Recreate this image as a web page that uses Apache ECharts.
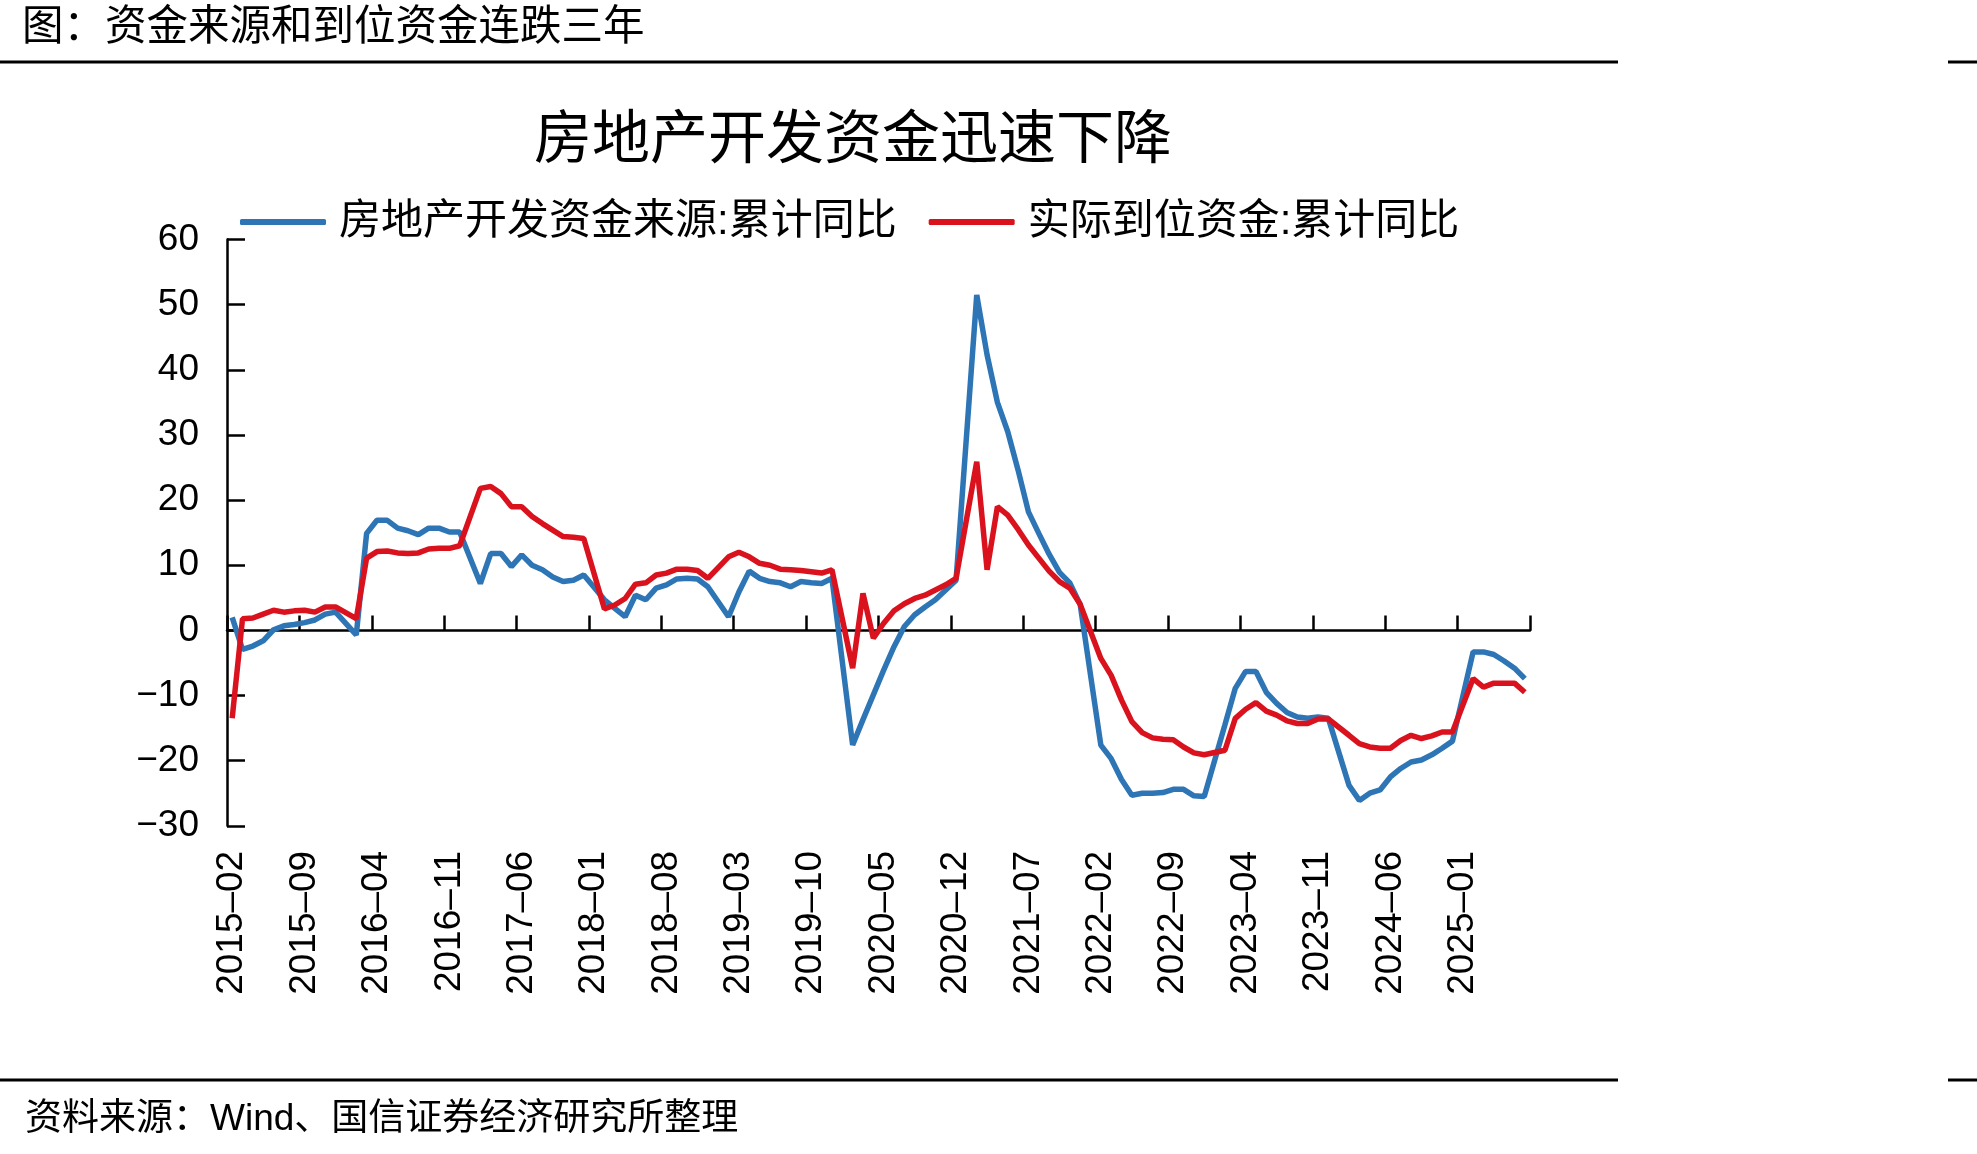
<!DOCTYPE html>
<html>
<head>
<meta charset="utf-8">
<title>房地产开发资金迅速下降</title>
<script src="https://cdn.jsdelivr.net/npm/echarts@6/dist/echarts.min.js"></script>
<style>
  html, body { margin: 0; padding: 0; background: #fff; }
  #main { width: 1977px; height: 1154px; }
</style>
</head>
<body>
<div id="main"></div>
<script>
// 月份：2015-02 至 2025-07，1月无单独数据（留空，连线跨过）
var months = [];
for (var y = 2015; y <= 2025; y++) {
  for (var m = 1; m <= 12; m++) {
    if (y === 2015 && m < 2) continue;
    if (y === 2025 && m > 7) break;
    months.push(y + '-' + (m < 10 ? '0' + m : m));
  }
}

// 房地产开发资金来源:累计同比（%）
var fundSource = [
  2.0, -2.9, -2.4, -1.6, 0.1, 0.7, 0.9, 1.2, 1.6, 2.5, 2.8,
  null, -0.7, 14.9, 16.9, 16.9, 15.7, 15.3, 14.7, 15.7, 15.7, 15.1, 15.1,
  null, 7.2, 11.8, 11.8, 9.8, 11.6, 10.0, 9.3, 8.2, 7.5, 7.7, 8.5,
  null, 4.7, 3.4, 2.1, 5.4, 4.7, 6.5, 7.0, 7.9, 8.0, 7.9, 6.7,
  null, 2.1, 5.9, 9.1, 8.0, 7.5, 7.3, 6.7, 7.5, 7.3, 7.2, 8.0,
  null, -17.6, -13.7, -9.9, -6.1, -2.5, 0.6, 2.4, 3.6, 4.7, 6.2, 7.7,
  null, 51.5, 42.3, 35.0, 30.5, 24.6, 18.2, 14.9, 11.7, 8.9, 7.3, 4.0,
  null, -17.6, -19.7, -22.9, -25.3, -25.0, -25.0, -24.9, -24.4, -24.4, -25.4, -25.5,
  null, -14.5, -8.9, -6.3, -6.3, -9.5, -11.2, -12.6, -13.3, -13.5, -13.3, -13.5,
  null, -23.8, -26.1, -25.0, -24.5, -22.5, -21.2, -20.2, -19.9, -19.1, -18.1, -17.0,
  null, -3.3, -3.3, -3.7, -4.7, -5.8, -7.4
];

// 实际到位资金:累计同比（%）
var fundActual = [
  -13.5, 1.8, 1.9, 2.5, 3.1, 2.8, 3.0, 3.1, 2.8, 3.6, 3.6,
  null, 1.8, 11.1, 12.1, 12.2, 11.9, 11.8, 11.9, 12.5, 12.6, 12.6, 13.0,
  null, 21.8, 22.1, 21.0, 19.0, 19.0, 17.5, 16.4, 15.4, 14.4, 14.3, 14.1,
  null, 3.3, 3.9, 4.9, 7.1, 7.3, 8.5, 8.8, 9.4, 9.4, 9.2, 8.0,
  null, 11.3, 12.0, 11.3, 10.3, 10.0, 9.4, 9.3, 9.2, 9.0, 8.8, 9.3,
  null, -5.8, 5.7, -1.2, 1.1, 3.0, 4.1, 4.9, 5.4, 6.2, 7.0, 8.0,
  null, 25.9, 9.3, 19.0, 17.7, 15.5, 13.1, 11.1, 9.1, 7.5, 6.5, 4.0,
  null, -4.3, -6.9, -10.7, -14.0, -15.7, -16.5, -16.7, -16.8, -17.9, -18.8, -19.1,
  null, -18.4, -13.5, -12.1, -11.1, -12.4, -13.0, -13.9, -14.3, -14.3, -13.6, -13.6,
  null, -16.1, -17.4, -17.9, -18.1, -18.1, -16.9, -16.1, -16.6, -16.2, -15.6, -15.6,
  null, -7.4, -8.7, -8.1, -8.1, -8.1, -9.5
];

var seriesNames = ['房地产开发资金来源:累计同比', '实际到位资金:累计同比'];
var yMin = -30, yMax = 60, yStep = 10;

var FONT = "'Liberation Sans', 'Noto Sans CJK SC', sans-serif";
var axisStyle = { color: '#000', width: 2.5 };

var myChart = echarts.init(document.getElementById('main'));
myChart.setOption({
  animation: false,
  backgroundColor: '#fff',
  textStyle: { fontFamily: FONT, color: '#000' },
  grid: { left: 227, top: 239.6, right: 447, bottom: 328.2, containLabel: false, outerBoundsMode: 'none' },
  legend: {
    data: seriesNames,
    left: 240,
    top: 201,
    padding: 0,
    icon: 'roundRect',
    itemWidth: 86,
    itemHeight: 6,
    itemGap: 32,
    textStyle: { fontSize: 42, lineHeight: 42, color: '#000', fontFamily: FONT, padding: [0, 0, 0, 8] }
  },
  xAxis: {
    type: 'category',
    data: months,
    boundaryGap: true,
    axisLine: { onZero: true, lineStyle: axisStyle },
    axisTick: { show: true, inside: true, length: 15, interval: 6, lineStyle: axisStyle },
    axisLabel: {
      interval: 6,
      rotate: 90,
      margin: 25,
      fontSize: 37,
      color: '#000',
      fontFamily: FONT,
      formatter: function (v) { return v.replace('-', '\u2013'); }
    },
    splitLine: { show: false }
  },
  yAxis: {
    type: 'value',
    min: yMin,
    max: yMax,
    interval: yStep,
    axisLine: { show: true, lineStyle: axisStyle },
    axisTick: { show: true, inside: true, length: 18, lineStyle: axisStyle },
    axisLabel: {
      margin: 28,
      fontSize: 37,
      color: '#000',
      fontFamily: FONT,
      formatter: function (v) { return String(v).replace('-', '\u2212'); }
    },
    splitLine: { show: false }
  },
  series: [
    {
      name: seriesNames[0],
      type: 'line',
      data: fundSource,
      connectNulls: true,
      symbol: 'none',
      color: '#2e75b6',
      lineStyle: { width: 5.5, color: '#2e75b6' },
      z: 2
    },
    {
      name: seriesNames[1],
      type: 'line',
      data: fundActual,
      connectNulls: true,
      symbol: 'none',
      color: '#d9121e',
      lineStyle: { width: 5.5, color: '#d9121e' },
      z: 3
    }
  ],
  graphic: [
    // 顶部标题与分隔线
    { type: 'text', x: 22, y: 24, style: { text: '图：资金来源和到位资金连跌三年', font: "41.5px 'Noto Sans CJK SC'", fill: '#000', textVerticalAlign: 'middle' } },
    { type: 'line', shape: { x1: 0, y1: 62, x2: 1618, y2: 62 }, style: { stroke: '#000', lineWidth: 3 } },
    { type: 'line', shape: { x1: 1948, y1: 62, x2: 1977, y2: 62 }, style: { stroke: '#000', lineWidth: 3 } },
    // 图表标题
    { type: 'text', x: 853, y: 136, style: { text: '房地产开发资金迅速下降', font: "58px 'Noto Sans CJK SC'", fill: '#000', textAlign: 'center', textVerticalAlign: 'middle' } },
    // 底部分隔线与资料来源
    { type: 'line', shape: { x1: 0, y1: 1080, x2: 1618, y2: 1080 }, style: { stroke: '#000', lineWidth: 3 } },
    { type: 'line', shape: { x1: 1948, y1: 1080, x2: 1977, y2: 1080 }, style: { stroke: '#000', lineWidth: 3 } },
    { type: 'text', x: 25, y: 1120, style: { text: '资料来源：Wind、国信证券经济研究所整理', font: "37px 'Liberation Sans', 'Noto Sans CJK SC'", fill: '#000', textVerticalAlign: 'middle' } }
  ]
});
</script>
</body>
</html>
